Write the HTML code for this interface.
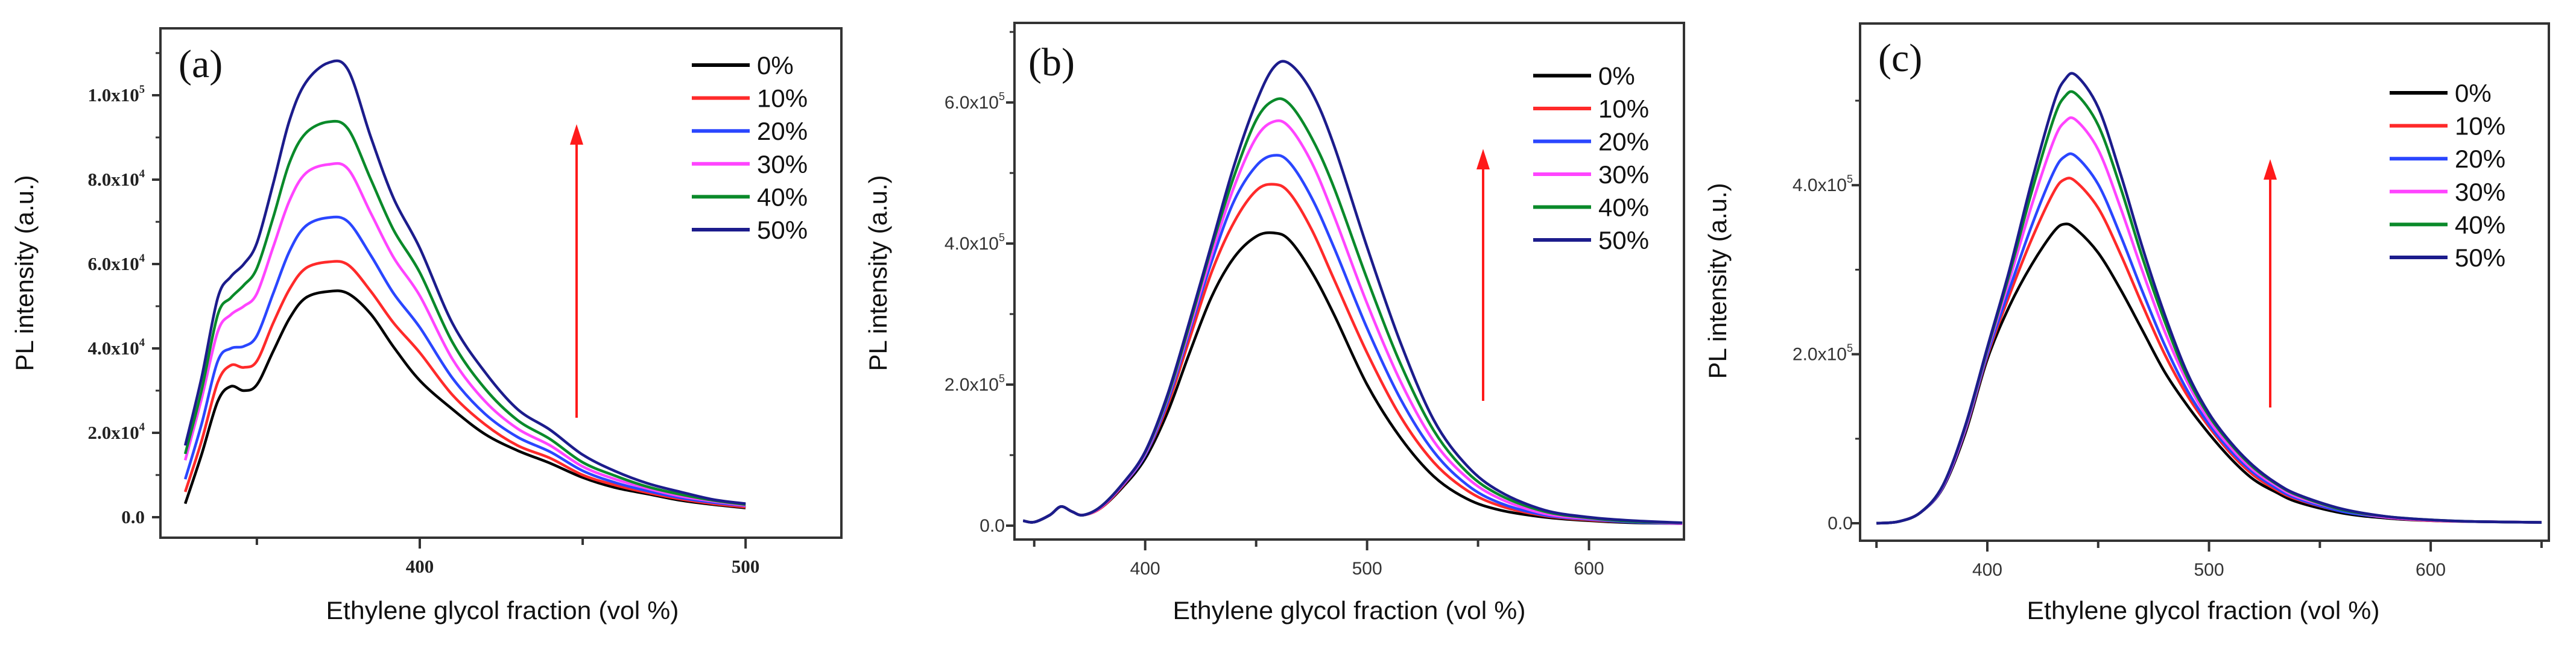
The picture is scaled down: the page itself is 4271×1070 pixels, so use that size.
<!DOCTYPE html>
<html><head><meta charset="utf-8"><style>
html,body{margin:0;padding:0;background:#fff;}
svg{display:block;}
.sans{font-family:"Liberation Sans",sans-serif;}
.serif{font-family:"Liberation Serif",serif;}
</style></head><body>
<svg id="fig" width="4271" height="1070" viewBox="0 0 4271 1070" xmlns="http://www.w3.org/2000/svg"></svg>
<script>
// ---- shared ----
const seriesLabels = ["0%","10%","20%","30%","40%","50%"];
const seriesColors = ["#000000","#ff2a2a","#2a46ff","#ff44ff","#0a8a2a","#1c1c8c"];

// ---- panel (a) data (intensity in 1e4) ----
const aX = [328,333,338,342,346,350,355,360,365,372,378,385,392,400,410,420,430,440,450,460,470,480,490,500];
const a0 = [0.32,1.48,2.75,3.1,3.0,3.14,3.93,4.71,5.2,5.35,5.3,4.81,4.03,3.24,2.56,1.97,1.58,1.28,0.94,0.7,0.55,0.4,0.3,0.22];
const a10 = [0.6,1.8,3.2,3.6,3.55,3.7,4.6,5.4,5.9,6.05,5.98,5.35,4.6,3.9,2.9,2.2,1.7,1.4,1.0,0.76,0.58,0.43,0.32,0.24];
const a20 = [0.9,2.2,3.7,4.0,4.05,4.3,5.3,6.3,6.9,7.1,7.0,6.2,5.3,4.5,3.3,2.45,1.9,1.55,1.1,0.82,0.62,0.46,0.35,0.27];
const a30 = [1.35,2.8,4.4,4.8,5.0,5.3,6.4,7.5,8.15,8.36,8.25,7.2,6.15,5.25,3.75,2.75,2.1,1.7,1.2,0.9,0.68,0.5,0.38,0.28];
const a40 = [1.5,3.0,4.8,5.2,5.5,5.9,7.1,8.4,9.1,9.37,9.2,8.0,6.8,5.8,4.15,3.05,2.3,1.85,1.3,0.98,0.72,0.54,0.4,0.3];
const a50 = [1.7,3.3,5.2,5.7,6.0,6.5,7.9,9.4,10.3,10.77,10.6,9.0,7.55,6.38,4.6,3.44,2.56,2.07,1.48,1.09,0.8,0.6,0.42,0.32];
const aYTicks = [0,2,4,6,8,10];
const aYTickLabels = ["0.0","2.0x10","4.0x10","6.0x10","8.0x10","1.0x10"];
const aYTickExp = ["","4","4","4","4","5"];
const aXTicks = [350,400,450,500];
const aXTickLabels = ["","400","","500"];

// ---- panel (b) data (intensity in 1e5) ----
const bX = [345,350,357,362,367,372,380,390,400,410,420,430,440,450,458,465,475,485,500,515,530,545,560,580,600,620,642];
const b0 = [0.07,0.05,0.15,0.27,0.2,0.15,0.25,0.55,0.95,1.6,2.45,3.25,3.8,4.1,4.15,4.05,3.6,3.0,2.0,1.25,0.7,0.38,0.22,0.12,0.07,0.04,0.03];
const b10 = [0.07,0.05,0.15,0.27,0.2,0.15,0.25,0.57,1.0,1.7,2.65,3.6,4.3,4.75,4.84,4.72,4.2,3.5,2.45,1.55,0.9,0.5,0.28,0.14,0.08,0.05,0.03];
const b20 = [0.07,0.05,0.15,0.27,0.2,0.15,0.26,0.58,1.0,1.75,2.75,3.75,4.6,5.1,5.25,5.15,4.65,3.95,2.8,1.8,1.05,0.58,0.32,0.15,0.09,0.05,0.03];
const b30 = [0.07,0.05,0.15,0.27,0.2,0.15,0.26,0.59,1.02,1.8,2.8,3.85,4.8,5.5,5.73,5.65,5.15,4.4,3.15,2.05,1.2,0.68,0.38,0.17,0.1,0.06,0.03];
const b40 = [0.07,0.05,0.15,0.27,0.2,0.15,0.27,0.6,1.04,1.82,2.85,3.95,4.95,5.75,6.03,5.98,5.5,4.8,3.5,2.3,1.35,0.76,0.43,0.2,0.11,0.06,0.04];
const b50 = [0.07,0.05,0.15,0.27,0.2,0.15,0.27,0.6,1.05,1.85,2.9,4.0,5.1,6.0,6.5,6.55,6.15,5.4,3.95,2.6,1.5,0.85,0.48,0.22,0.12,0.07,0.04];
const bYTicks = [0,2,4,6];
const bYTickLabels = ["0.0","2.0x10","4.0x10","6.0x10"];
const bYTickExp = ["","5","5","5"];
const bXTicks = [350,400,450,500,550,600];
const bXTickLabels = ["","400","","500","","600"];

// ---- panel (c) data (intensity in 1e5) ----
const cX = [350,360,370,380,390,400,410,420,430,435,440,450,460,470,480,490,500,510,520,530,540,560,580,600,620,650];
const c0 = [0,0.02,0.13,0.42,1.06,1.94,2.57,3.06,3.45,3.54,3.48,3.2,2.77,2.28,1.79,1.4,1.06,0.76,0.52,0.37,0.25,0.12,0.06,0.03,0.02,0.01];
const c10 = [0,0.02,0.13,0.43,1.09,1.98,2.7,3.36,3.92,4.07,4.04,3.73,3.19,2.58,2.0,1.52,1.14,0.82,0.57,0.4,0.28,0.14,0.07,0.03,0.02,0.01];
const c20 = [0,0.02,0.13,0.43,1.1,2.0,2.77,3.52,4.16,4.34,4.34,4.01,3.41,2.74,2.11,1.58,1.17,0.85,0.6,0.42,0.29,0.14,0.07,0.035,0.02,0.01];
const c30 = [0,0.02,0.13,0.44,1.12,2.04,2.88,3.76,4.53,4.75,4.77,4.42,3.74,2.98,2.27,1.68,1.22,0.89,0.63,0.45,0.31,0.16,0.07,0.035,0.02,0.01];
const c40 = [0,0.02,0.13,0.45,1.14,2.06,2.95,3.92,4.79,5.05,5.08,4.71,3.98,3.14,2.39,1.74,1.27,0.93,0.66,0.47,0.33,0.16,0.08,0.04,0.02,0.01];
const c50 = [0,0.02,0.13,0.45,1.15,2.08,3.0,4.04,4.97,5.25,5.3,4.92,4.14,3.26,2.47,1.79,1.3,0.95,0.68,0.48,0.34,0.17,0.08,0.04,0.02,0.01];
const cYTicks = [0,2,4];
const cYTickLabels = ["0.0","2.0x10","4.0x10"];
const cYTickExp = ["","5","5"];
const cXTicks = [350,400,450,500,550,600,650];
const cXTickLabels = ["","400","","500","","600",""];

const NS = "http://www.w3.org/2000/svg";
const svg = document.getElementById("fig");
function mk(tag, attrs, parent){
  const e = document.createElementNS(NS, tag);
  for (const k in attrs) e.setAttribute(k, attrs[k]);
  (parent||svg).appendChild(e);
  return e;
}
function smoothPath(pts){
  let d = "M" + pts[0][0].toFixed(1) + "," + pts[0][1].toFixed(1);
  for (let i=0;i<pts.length-1;i++){
    const p0 = pts[i-1]||pts[i], p1 = pts[i], p2 = pts[i+1], p3 = pts[i+2]||p2;
    const c1x = p1[0]+(p2[0]-p0[0])/6, c1y = p1[1]+(p2[1]-p0[1])/6;
    const c2x = p2[0]-(p3[0]-p1[0])/6, c2y = p2[1]-(p3[1]-p1[1])/6;
    d += " C"+c1x.toFixed(1)+","+c1y.toFixed(1)+" "+c2x.toFixed(1)+","+c2y.toFixed(1)+" "+p2[0].toFixed(1)+","+p2[1].toFixed(1);
  }
  return d;
}

function drawPanel(P){
  const g = mk("g", {});
  
  
  const xs = v => P.fl + (v - P.xmin) / (P.xmax - P.xmin) * (P.fr - P.fl);
  const ys = v => P.y0 - v * P.ypu;
  const fr = mk("rect", {x:P.fl, y:P.ft, width:P.fr-P.fl, height:P.fb-P.ft, fill:"none", stroke:"#333", "stroke-width":4}, g);
  
  
  const yt = mk("g", {}, g);
  
  
  for (let i=0;i<P.yTicks.length;i++){
    const y = ys(P.yTicks[i]);
    mk("line", {x1:P.fl-14, x2:P.fl, y1:y, y2:y, stroke:"#333", "stroke-width":4}, yt);
    const t = mk("text", {x:P.ylabX, y:y+10, "text-anchor":"end", "font-size":P.tickFont, fill:P.tickColor, "font-weight":P.tickWeight, class:P.tickClass}, yt);
    
    
    t.textContent = P.yTickLabels[i];
    if (P.yTickExp[i]) {
      const s = mk("tspan", {"font-size":P.tickFont*0.6, dy:-14}, t);
      s.textContent = P.yTickExp[i];
    }
    if (i < P.yTicks.length-1 || P.minorTop){
      const ym = ys(P.yTicks[i] + P.yMinorStep);
      if (ym > P.ft) mk("line", {x1:P.fl-8, x2:P.fl, y1:ym, y2:ym, stroke:"#333", "stroke-width":3}, yt);
    }
  }
  const xt = mk("g", {}, g);
  
  
  for (let i=0;i<P.xTicks.length;i++){
    const x = xs(P.xTicks[i]);
    const major = P.xTickLabels[i] !== "";
    mk("line", {x1:x, x2:x, y1:P.fb, y2:P.fb+(major?18:12), stroke:"#333", "stroke-width":4}, xt);
    if (major){
      const t = mk("text", {x:x, y:P.fb+58, "text-anchor":"middle", "font-size":P.tickFont, fill:P.tickColor, "font-weight":P.tickWeight, class:P.tickClass}, xt);
      
      
      t.textContent = P.xTickLabels[i];
    }
  }
  for (let s=0;s<P.series.length;s++){
    const pts = P.x.map((v,i)=>[xs(v), ys(P.series[s][i])]);
    const p = mk("path", {d:smoothPath(pts), fill:"none", stroke:seriesColors[s], "stroke-width":4.5, "stroke-linejoin":"round"}, g);
    
    
  }
  const lg = mk("g", {}, g);
  
  
  for (let s=0;s<seriesLabels.length;s++){
    const y = P.legY0 + s*P.legDy;
    const e = mk("g", {}, lg);
    
    
    mk("line", {x1:P.legX, x2:P.legX+96, y1:y, y2:y, stroke:seriesColors[s], "stroke-width":6}, e);
    const t = mk("text", {x:P.legX+108, y:y+15, "font-size":42, class:"sans", fill:"#111"}, e);
    t.textContent = seriesLabels[s];
  }
  const ar = mk("g", {}, g);
  
  
  mk("line", {x1:P.arX, x2:P.arX, y1:P.arY1, y2:P.arY2+20, stroke:"#ff1a1a", "stroke-width":4}, ar);
  mk("path", {d:"M"+(P.arX-11)+","+(P.arY2+34)+" L"+P.arX+","+P.arY2+" L"+(P.arX+11)+","+(P.arY2+34)+" Z", fill:"#ff1a1a"}, ar);
  const pl = mk("text", {x:P.letX, y:P.letY, "font-size":66, class:"serif", fill:"#111"}, g);
  
  
  pl.textContent = P.letter;
  const yl = mk("text", {x:0, y:0, transform:"translate("+P.yTitleX+","+P.yTitleY+") rotate(-90)", "text-anchor":"middle", "font-size":42, class:"sans", fill:"#111"}, g);
  
  
  yl.textContent = "PL intensity (a.u.)";
  const xl = mk("text", {x:P.xTitleX, y:1027, "text-anchor":"middle", "font-size":42, class:"sans", fill:"#111", textLength:585, lengthAdjust:"spacingAndGlyphs"}, g);
  
  
  xl.textContent = "Ethylene glycol fraction (vol %)";
}

drawPanel({name:"panel-a", letter:"(a)", fl:266, fr:1395, ft:47, fb:892, xmin:320.4, xmax:529.4, y0:858, ypu:70,
  x:aX, series:[a0,a10,a20,a30,a40,a50], yTicks:aYTicks, yTickLabels:aYTickLabels, yTickExp:aYTickExp, yMinorStep:1, minorTop:true,
  xTicks:aXTicks, xTickLabels:aXTickLabels, ylabX:240, tickFont:31, tickColor:"#222", tickWeight:"bold", tickClass:"serif",
  legX:1147, legY0:108, legDy:54.6, arX:956, arY1:693, arY2:206, letX:296, letY:128, yTitleX:55, yTitleY:453, xTitleX:833});
drawPanel({name:"panel-b", letter:"(b)", fl:1682, fr:2792, ft:38, fb:895, xmin:341.1, xmax:642.8, y0:872, ypu:117,
  x:bX, series:[b0,b10,b20,b30,b40,b50], yTicks:bYTicks, yTickLabels:bYTickLabels, yTickExp:bYTickExp, yMinorStep:1, minorTop:true,
  xTicks:bXTicks, xTickLabels:bXTickLabels, ylabX:1666, tickFont:30, tickColor:"#333", tickWeight:"normal", tickClass:"sans",
  legX:2542, legY0:125.5, legDy:54.5, arX:2459, arY1:665, arY2:247, letX:1705, letY:125, yTitleX:1470, yTitleY:453, xTitleX:2237});
drawPanel({name:"panel-c", letter:"(c)", fl:3084, fr:4226, ft:39, fb:897, xmin:342.6, xmax:653.3, y0:868, ypu:140.2,
  x:cX, series:[c0,c10,c20,c30,c40,c50], yTicks:cYTicks, yTickLabels:cYTickLabels, yTickExp:cYTickExp, yMinorStep:1, minorTop:true,
  xTicks:cXTicks, xTickLabels:cXTickLabels, ylabX:3072, tickFont:30, tickColor:"#333", tickWeight:"normal", tickClass:"sans",
  legX:3962, legY0:154, legDy:54.6, arX:3764, arY1:676, arY2:264, letX:3114, letY:118, yTitleX:2862, yTitleY:466, xTitleX:3653});
</script>
</body></html>
